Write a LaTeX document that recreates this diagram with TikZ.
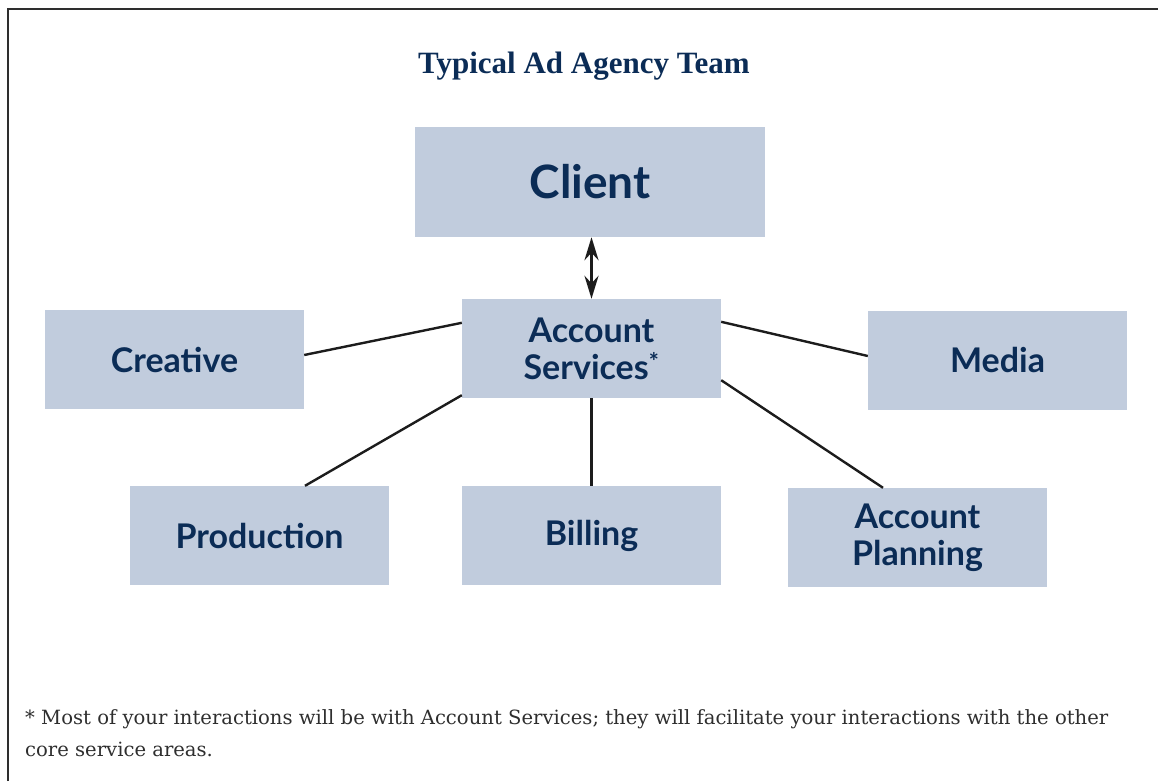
\documentclass[tikz,border=0pt]{standalone}
\usepackage{fontspec}
\setmainfont{DejaVu Serif}
\newfontfamily\boxfont{Lato}
\newfontfamily\titlefont{Liberation Serif}
\usetikzlibrary{arrows.meta}
\definecolor{boxfill}{HTML}{C1CCDD}
\definecolor{navy}{HTML}{0B2C56}
\definecolor{ink}{HTML}{1C1C1C}
\definecolor{foot}{HTML}{2E2E2E}
\tikzset{
  unit/.style={rectangle, fill=boxfill, minimum width=259pt, minimum height=99pt, inner sep=0pt,
    text=navy, align=center, font=\boxfont\bfseries\fontsize{34}{37}\selectfont},
  link/.style={draw=ink, line width=2.4pt},
}
\begin{document}
\begin{tikzpicture}[x=1pt,y=-1pt]
\useasboundingbox (0,0) rectangle (1158,781);
\draw[foot, line width=2pt] (8,781) -- (8,9) -- (1158,9);
\node[text=navy, font=\titlefont\bfseries\fontsize{31}{34}\selectfont] (title) at (584,66) {Typical Ad Agency Team};
\node[unit, minimum width=350pt, minimum height=110pt, font=\boxfont\bfseries\fontsize{46}{50}\selectfont] (cli) at (590,182) {Client};
\node[unit] (as) at (591.5,348.5) {Account\\Services\textsuperscript{*}};
\node[unit] (cre) at (174.5,359.5) {Creative};
\node[unit] (med) at (997.5,360.5) {Media};
\node[unit] (pro) at (259.5,535.5) {Production};
\node[unit] (bil) at (591.5,535.5) {Billing};
\node[unit] (ap) at (917.5,537.5) {Account\\Planning};
\draw[ink, line width=3pt, {Stealth[length=23pt,width=14pt]}-{Stealth[length=23pt,width=14pt]}] (cli.south -| as.north) -- (as.north);
\draw[link] ([yshift=4.5pt]cre.east) -- ([yshift=-24pt]as.north west);
\draw[link] ([yshift=-23pt]as.north east) -- ([yshift=4.5pt]med.west);
\draw[link] ([yshift=3pt]as.south west) -- ([xshift=45.5pt]pro.north);
\draw[link] (as.south) -- (bil.north);
\draw[link] ([yshift=18pt]as.south east) -- ([xshift=-34.5pt]ap.north);
\node[anchor=north west, inner sep=0pt, align=left, text=foot, font=\fontsize{19.6}{32}\selectfont] (note) at (25,709)
  {* Most of your interactions will be with Account Services; they will facilitate your interactions with the other\\core service areas.};
\end{tikzpicture}
\end{document}
